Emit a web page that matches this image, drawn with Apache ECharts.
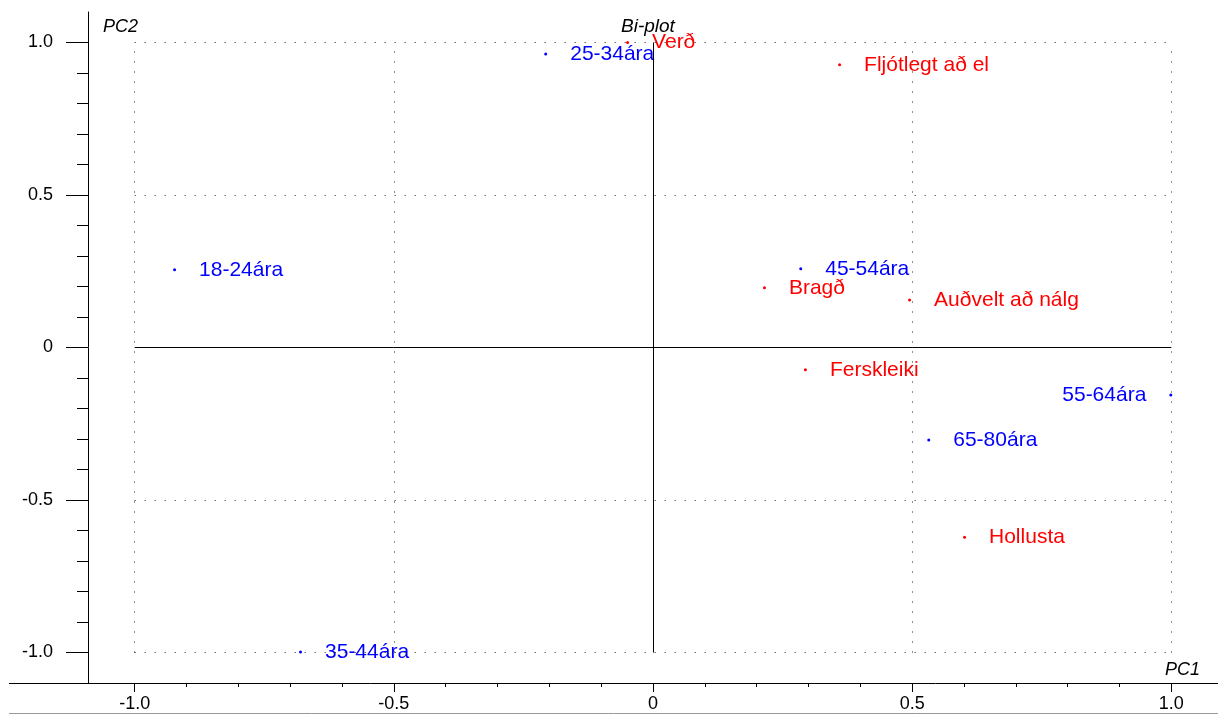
<!DOCTYPE html>
<html>
<head>
<meta charset="utf-8">
<title>Bi-plot</title>
<script src="https://cdn.jsdelivr.net/npm/echarts@6/dist/echarts.min.js"></script>
<style>
  html, body { margin: 0; padding: 0; background: #fff; }
  #main { width: 1218px; height: 714px; }
</style>
</head>
<body>
<div id="main"></div>
<script>
// gögn lesin af myndinni
const ageNames = ['18-24ára', '25-34ára', '35-44ára', '45-54ára', '55-64ára', '65-80ára']
const agePC1 = [-0.923, -0.207, -0.680, 0.285, 0.999, 0.532]
const agePC2 = [0.255, 0.962, -0.998, 0.258, -0.156, -0.303]

const attrNames = ['Verð', 'Fljótlegt að el', 'Bragð', 'Auðvelt að nálg', 'Ferskleiki', 'Hollusta']
const attrPC1 = [-0.049, 0.360, 0.215, 0.495, 0.294, 0.601]
const attrPC2 = [1.0, 0.927, 0.196, 0.156, -0.073, -0.622]

// ásar
const majorTicks = [-1.0, -0.5, 0, 0.5, 1.0]
const xTickLabels = ['-1.0', '-0.5', '0', '0.5', '1.0']
const yTickLabels = ['-1.0', '-0.5', '0', '0.5', '1.0']
const minorTicks = [-1.0, -0.9, -0.8, -0.7, -0.6, -0.5, -0.4, -0.3, -0.2, -0.1, 0,
  0.1, 0.2, 0.3, 0.4, 0.5, 0.6, 0.7, 0.8, 0.9, 1.0]
const gridLines = [-1.0, -0.5, 0.5, 1.0]

const font = "'Liberation Sans', Arial, sans-serif"

const dom = document.getElementById('main')
const myChart = echarts.init(dom)

function toPoints (names, xs, ys) {
  return names.map((n, i) => ({
    name: n,
    value: [xs[i], ys[i]],
    label: { position: xs[i] > 0.95 ? 'left' : 'right' }
  }))
}

function labelFor (labels) {
  return function (v) {
    const i = majorTicks.findIndex(t => Math.abs(t - v) < 1e-6)
    return i >= 0 ? labels[i] : ''
  }
}

// punktalínur á ±0.5 og ±1, heilar línur í 0
const dotted = { color: '#222', width: 1, type: [1, 9] }
const solid = { color: '#000', width: 1, type: 'solid' }
const refLines = []
gridLines.forEach(v => {
  refLines.push([{ coord: [-1, v], lineStyle: dotted }, { coord: [1, v] }])
  refLines.push([{ coord: [v, -1], lineStyle: dotted }, { coord: [v, 1] }])
})
refLines.push([{ coord: [-1, 0], lineStyle: solid }, { coord: [1, 0] }])
refLines.push([{ coord: [0, -1], lineStyle: solid }, { coord: [0, 1] }])

const pointLabel = (color) => ({
  show: true,
  formatter: '{b}',
  color: color,
  fontFamily: font,
  fontSize: 21,
  distance: 23
})

const option = {
  animation: false,
  backgroundColor: '#fff',
  title: {
    text: 'Bi-plot',
    left: 621,
    top: 17,
    padding: 0,
    textStyle: { fontFamily: font, fontSize: 19, fontStyle: 'italic', fontWeight: 'normal', color: '#000' }
  },
  grid: { left: 88, right: 0, top: 12, bottom: 31 },
  xAxis: [
    {
      type: 'value', min: -1.09, max: 1.09,
      axisLine: { onZero: false, lineStyle: { color: '#000', width: 1 } },
      axisTick: { customValues: majorTicks, length: 9, lineStyle: { color: '#000' } },
      axisLabel: { customValues: majorTicks, formatter: labelFor(xTickLabels), margin: 12, color: '#000', fontFamily: font, fontSize: 18 },
      splitLine: { show: false }
    },
    {
      type: 'value', min: -1.09, max: 1.09, position: 'bottom',
      axisLine: { show: false, onZero: false },
      axisTick: { customValues: minorTicks, length: 4, lineStyle: { color: '#000' } },
      axisLabel: { show: false },
      splitLine: { show: false }
    }
  ],
  yAxis: [
    {
      type: 'value', min: -1.1, max: 1.1,
      axisLine: { onZero: false, lineStyle: { color: '#000', width: 1 } },
      axisTick: { customValues: majorTicks, length: 22, lineStyle: { color: '#000' } },
      axisLabel: { customValues: majorTicks, formatter: labelFor(yTickLabels), margin: 35, color: '#000', fontFamily: font, fontSize: 18 },
      splitLine: { show: false }
    },
    {
      type: 'value', min: -1.1, max: 1.1, position: 'left', offset: 0,
      axisLine: { show: false, onZero: false },
      axisTick: { customValues: minorTicks, length: 11, lineStyle: { color: '#000' } },
      axisLabel: { show: false },
      splitLine: { show: false }
    }
  ],
  graphic: [
    // x-ásinn nær út fyrir y-ásinn til vinstri
    { type: 'line', shape: { x1: 9, y1: 683.5, x2: 88, y2: 683.5 }, style: { stroke: '#000', lineWidth: 1 } },
    { type: 'line', shape: { x1: 9, y1: 713.5, x2: 1218, y2: 713.5 }, style: { stroke: '#999', lineWidth: 1 } },
    { type: 'text', left: 103, top: 18, style: { text: 'PC2', font: 'italic 18px ' + font, fill: '#000' } },
    { type: 'text', right: 18, top: 661, style: { text: 'PC1', font: 'italic 18px ' + font, fill: '#000' } }
  ],
  series: [
    {
      name: 'Aldur',
      type: 'scatter',
      symbol: 'circle',
      symbolSize: 3,
      itemStyle: { color: '#0000ff', opacity: 1 },
      label: pointLabel('#0000ff'),
      data: toPoints(ageNames, agePC1, agePC2),
      markLine: {
        silent: true,
        symbol: ['none', 'none'],
        label: { show: false },
        data: refLines
      }
    },
    {
      name: 'Eiginleikar',
      type: 'scatter',
      symbol: 'circle',
      symbolSize: 3,
      itemStyle: { color: '#ff0000', opacity: 1 },
      label: pointLabel('#ff0000'),
      data: toPoints(attrNames, attrPC1, attrPC2)
    }
  ]
}

myChart.setOption(option)
</script>
</body>
</html>
